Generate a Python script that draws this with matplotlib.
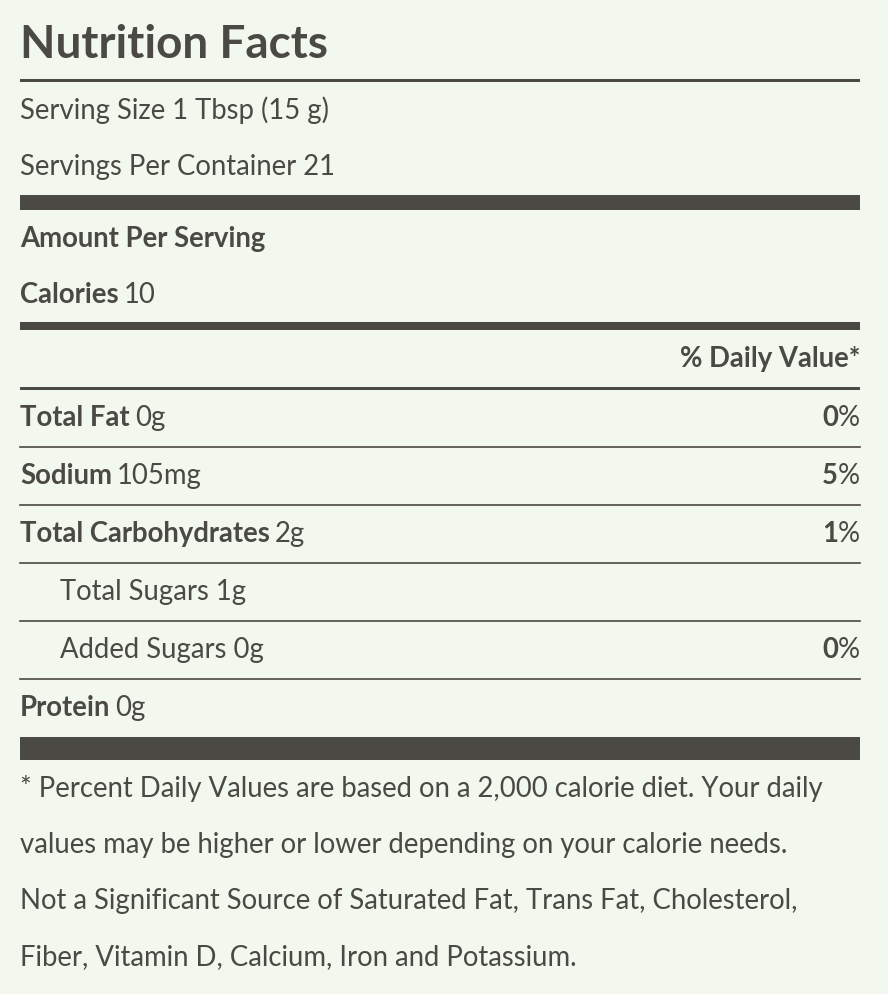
import matplotlib.pyplot as plt

bg = '#f2f8ee'
ink = '#4a4943'

nutrients = ['Total Fat', 'Sodium', 'Total Carbohydrates', 'Total Sugars', 'Added Sugars', 'Protein']
amounts = ['0g', '105mg', '2g', '1g', '0g', '0g']
daily = ['0', '5', '1', '', '0', '']
indented = [False, False, False, True, True, False]

serving_size = '1 Tbsp (15 g)'
servings = '21'
calories = '10'
footnote = ['* Percent Daily Values are based on a 2,000 calorie diet. Your daily',
            'values may be higher or lower depending on your calorie needs.',
            'Not a Significant Source of Saturated Fat, Trans Fat, Cholesterol,',
            'Fiber, Vitamin D, Calcium, Iron and Potassium.']

fig = plt.figure(figsize=(8.88, 9.94), dpi=100, facecolor=bg)
ax = fig.add_axes([0, 0, 1, 1])
ax.set_xlim(0, 888)
ax.set_ylim(994, 0)
ax.axis('off')
ax.set_facecolor(bg)
plt.rcParams['font.family'] = 'Lato'
fs = 19.8
fig.canvas.draw()
r = fig.canvas.get_renderer()

def txt(x, y, s, bold=False, ha='left', size=fs):
    t = ax.text(x, y, s, fontsize=size, color=ink, va='center', ha=ha,
                fontweight='bold' if bold else 'normal')
    return t

def pair(x, y, b, n, size=fs):
    t = txt(x, y, b, True, size=size)
    bb = t.get_window_extent(r).transformed(ax.transData.inverted())
    txt(bb.x1 + 5, y, n, size=size)

def bar(y0, y1):
    ax.fill_between([20, 860], y0, y1, color=ink, lw=0)

txt(20, 45, 'Nutrition Facts', True, size=33)
bar(79, 82)
txt(20, 110, 'Serving Size ' + serving_size)
txt(20, 167, 'Servings Per Container ' + servings)
bar(195, 210)
txt(20, 239, 'Amount Per Serving', True)
pair(20, 295, 'Calories', calories)
bar(322, 330)
txt(860, 359, '% Daily Value*', True, ha='right')
bar(387, 390)

y = 418
for i, name in enumerate(nutrients):
    x = 60 if indented[i] else 20
    if indented[i]:
        txt(x, y, name + ' ' + amounts[i])
    else:
        pair(x, y, name, amounts[i])
    if daily[i]:
        t = txt(860, y, '%', ha='right')
        bb = t.get_window_extent(r).transformed(ax.transData.inverted())
        txt(bb.x0, y, daily[i], True, ha='right')
    if i < len(nutrients) - 1:
        ax.plot([20, 860], [y + 29, y + 29], color=ink, lw=1.2)
    y += 58

bar(737, 760)
for j, line in enumerate(footnote):
    txt(20, 789 + 56 * j, line)

fig.savefig('out.png', dpi=100, facecolor=bg)
